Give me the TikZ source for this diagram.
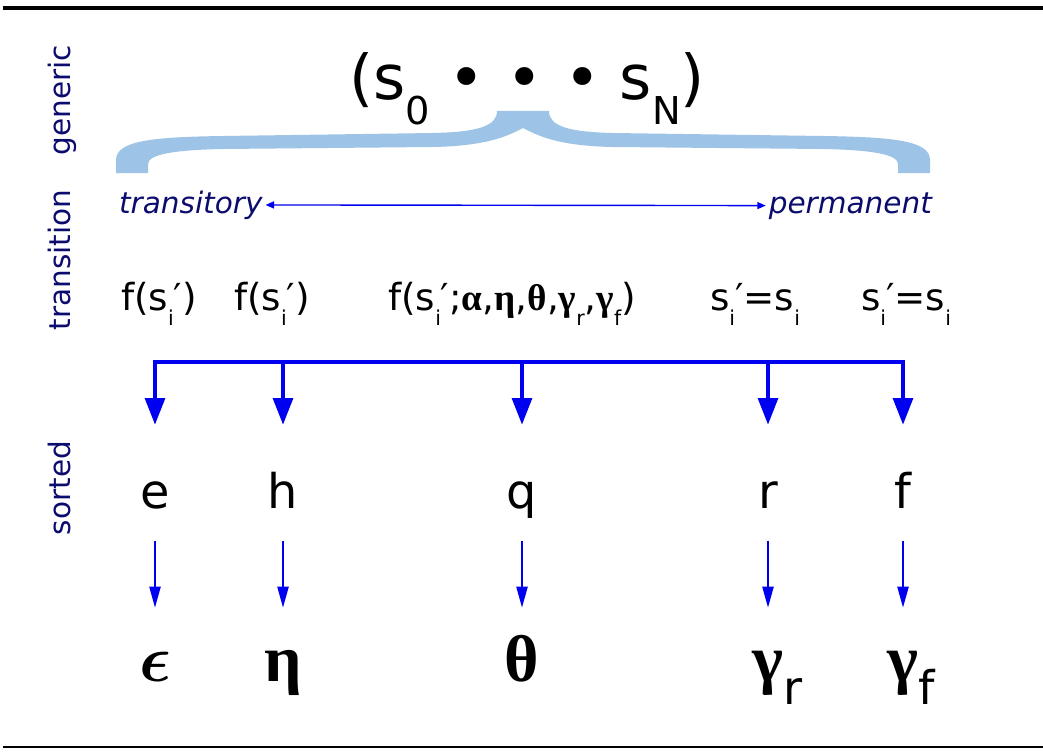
\RequirePackage{fix-cm}
\documentclass[tikz,border=0pt]{standalone}
\usepackage{amsmath}
\usepackage{graphicx}
\usepackage{fontspec}
\setmainfont{DejaVu Sans}
\newfontfamily\greekserif{Liberation Serif}
\usepackage{tikz}
\usetikzlibrary{arrows.meta, positioning}
\definecolor{bracelight}{RGB}{157,195,230}
\definecolor{labelnavy}{RGB}{12,12,110}
\definecolor{flowblue}{RGB}{0,0,240}
\newcommand{\lowsub}[1]{\raisebox{-0.42em}{\scalebox{0.55}{#1}}}
\newcommand{\bigsub}[1]{\raisebox{-0.40em}{\scalebox{0.62}{#1}}}
\newcommand{\grk}[1]{{\greekserif\bfseries #1}}
\tikzset{
  bigtip/.tip={Triangle[length=19pt,width=14pt]},
  smalltip/.tip={Triangle[length=15pt,width=8pt]},
  thintip/.tip={Triangle[length=6pt,width=5pt]}
}

\begin{document}
\begin{tikzpicture}[x=0.025cm, y=-0.025cm,
    sidelabel/.style={rotate=90, anchor=base, text=labelnavy, font=\fontsize{21}{24}\selectfont},
    endlabel/.style={text=labelnavy, font=\fontsize{21}{24}\selectfont\itshape, inner sep=2pt},
    rulelabel/.style={anchor=base, font=\fontsize{26.5}{30}\selectfont, inner sep=0pt},
    sortlabel/.style={anchor=base, font=\fontsize{34}{40}\selectfont, inner sep=4pt, text height=55pt, text depth=19pt},
    greeklabel/.style={anchor=base, font=\fontsize{47}{50}\selectfont\greekserif\bfseries, inner sep=4pt, text height=48pt},
    bigflow/.style={flowblue, line width=2.8pt},
    smallarrow/.style={flowblue, line width=1.3pt, -smalltip},
    thinarrow/.style={flowblue, line width=1pt, thintip-thintip}]
    \useasboundingbox (0,0) rectangle (1043,755);
    \draw[line width=2.8pt] (3,8) -- (1043,8);
    \draw[line width=1.2pt] (3,747) -- (1043,747);

    % row labels
    \node[sidelabel] (generic) at (70,100) {generic};
    \node[sidelabel] (transition) at (70,260) {transition};
    \node[sidelabel] (sorted) at (70,488) {sorted};

    \node[anchor=base, font=\fontsize{44}{48}\selectfont] (states) at (527,100)
      {(s\bigsub{0}\hspace{0.3em}•\hspace{0.35em}•\hspace{0.35em}•\hspace{0.3em}s\bigsub{N})};
    \foreach \side in {1,-1}{
      \fill[bracelight, shift={(523,0)}, xscale=\side]
        (-407,173) -- (-407,160) .. controls (-407,141) and (-372,137) .. (-300,136)
        -- (-90,133) .. controls (-45,132) and (-26,126) .. (-26,111)
        -- (0,111) -- (0,128)
        .. controls (-12,134) and (-32,146) .. (-90,147)
        -- (-300,149) .. controls (-352,150) and (-375,155) .. (-375,164)
        -- (-375,173) -- cycle;
    }

    \node[endlabel, anchor=base west] (transitory) at (116,213) {transitory};
    \node[endlabel, anchor=base east] (permanent) at (935,213) {permanent};
    \draw[thinarrow] (transitory) -- (permanent);

    \node[rulelabel] (ruleE) at (159,310) {f(s\lowsub{i}′)};
    \node[rulelabel] (ruleH) at (272,310) {f(s\lowsub{i}′)};
    \node[rulelabel] (ruleQ) at (512,310)
      {f(s\lowsub{i}′;\grk{α},\grk{η},\grk{θ},\grk{γ}\lowsub{r},\grk{γ}\lowsub{f})};
    \node[rulelabel] (ruleR) at (755,310) {s\lowsub{i}′=s\lowsub{i}};
    \node[rulelabel] (ruleF) at (906,310) {s\lowsub{i}′=s\lowsub{i}};

    \foreach \x/\id/\ltr in {155/E/e, 283/H/h, 522/Q/q, 768/R/r, 903/F/f}{
      \node[sortlabel] (sort\id) at (\x,508) {\ltr};
    }
    \node[greeklabel] (grkE) at (155,681) {$\boldsymbol{\epsilon}$};
    \node[greeklabel] (grkH) at (283,681) {η};
    \node[greeklabel] (grkQ) at (522,681) {θ};
    \node[greeklabel] (grkR) at (768,681)
      {γ\rlap{\raisebox{-0.36em}{\fontsize{33}{33}\selectfont\normalfont\fontsize{33}{33}\selectfont r}}};
    \node[greeklabel] (grkF) at (903,681)
      {γ\rlap{\raisebox{-0.36em}{\fontsize{33}{33}\selectfont\normalfont\fontsize{33}{33}\selectfont f}}};

    \coordinate (barline) at (522,362);
    \draw[bigflow, bigtip-bigtip] (sortE.north) |- (barline) -| (sortF.north);
    \foreach \id in {H,Q,R}{
      \draw[bigflow, -bigtip] (barline -| sort\id.north) -- (sort\id.north);
    }
    \foreach \id in {E,H,Q,R,F}{
      \draw[smallarrow] (sort\id.south) -- (grk\id.north);
    }
\end{tikzpicture}
\end{document}
